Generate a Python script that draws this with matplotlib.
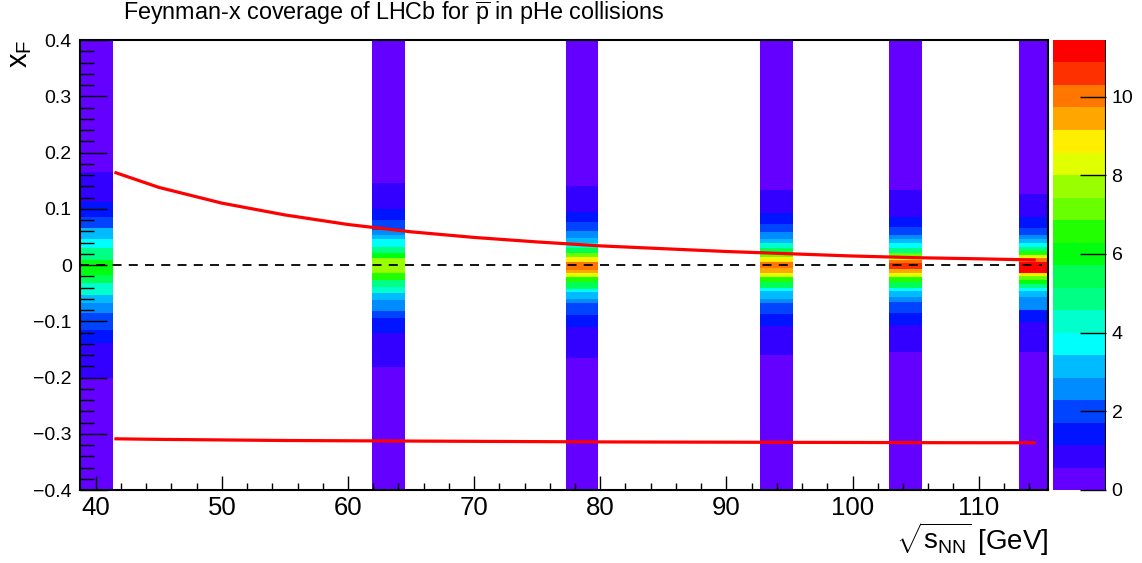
import colorsys
import numpy as np
import matplotlib
matplotlib.use("Agg")
import matplotlib.pyplot as plt
from matplotlib.colors import ListedColormap, BoundaryNorm

plt.rcParams['font.family'] = ['Liberation Sans', 'DejaVu Sans']
plt.rcParams['mathtext.fontset'] = 'custom'
plt.rcParams['mathtext.rm'] = 'Liberation Sans'
plt.rcParams['mathtext.it'] = 'Liberation Sans'

# ---- data ----
sqrt_s = [40.05, 63.2, 78.55, 93.95, 104.2, 114.5]
band_width = 2.6

# per column: y edges (top -> bottom) and bin content in each slice
col1_edges = [0.4, 0.166, 0.1125, 0.086, 0.065, 0.0457, 0.0296, 0.0089, -0.018, -0.0326, -0.0533, -0.068, -0.086, -0.1156, -0.139, -0.2, -0.4]
col1_vals = [0.29, 0.86, 1.43, 2.0, 2.9, 3.72, 4.86, 6.0, 5.43, 4.29, 3.15, 2.57, 2.0, 1.43, 0.86, 0.29]

col2_edges = [0.4, 0.146, 0.099, 0.080, 0.062, 0.053, 0.0457, 0.0326, 0.0207, 0.012, -0.0148, -0.0267, -0.0385, -0.050, -0.062, -0.081, -0.095, -0.121, -0.181, -0.4]
col2_vals = [0.29, 0.86, 1.43, 2.0, 2.57, 3.15, 3.72, 4.6, 6.0, 7.72, 6.3, 4.86, 4.29, 3.4, 2.57, 2.0, 1.43, 0.86, 0.29]

col3_edges = [0.4, 0.14, 0.095, 0.076, 0.060, 0.048, 0.040, 0.030, 0.022, 0.015, 0.006, -0.008, -0.015, -0.022, -0.031, -0.042, -0.048, -0.060, -0.068, -0.088, -0.110, -0.165, -0.4]
col3_vals = [0.29, 0.86, 1.43, 2.0, 2.57, 3.4, 4.29, 5.7, 7.4, 8.87, 10.0, 9.44, 8.29, 6.58, 5.43, 4.0, 3.15, 2.57, 2.0, 1.43, 0.86, 0.29]

col4_edges = [0.4, 0.133, 0.093, 0.073, 0.059, 0.046, 0.0385, 0.0296, 0.0219, 0.0148, 0.0059, -0.0059, -0.0148, -0.022, -0.031, -0.0415, -0.047, -0.060, -0.067, -0.087, -0.108, -0.160, -0.4]
col4_vals = [0.29, 0.86, 1.43, 2.0, 2.57, 3.4, 4.29, 5.7, 7.4, 8.87, 10.0, 9.44, 8.29, 6.58, 5.43, 4.0, 3.15, 2.57, 2.0, 1.43, 0.86, 0.29]

col5_edges = [0.4, 0.133, 0.086, 0.067, 0.053, 0.046, 0.0385, 0.0296, 0.0219, 0.0148, 0.0089, 0.003, -0.0077, -0.0137, -0.0207, -0.031, -0.0415, -0.047, -0.056, -0.065, -0.086, -0.107, -0.154, -0.4]
col5_vals = [0.29, 0.86, 1.43, 2.0, 2.57, 3.15, 3.72, 4.86, 6.9, 8.29, 10.0, 10.6, 9.44, 8.29, 6.58, 5.43, 3.72, 3.15, 2.57, 2.0, 1.43, 0.86, 0.29]

col6_edges = [0.4, 0.126, 0.086, 0.065, 0.053, 0.0457, 0.0385, 0.0326, 0.0249, 0.0178, 0.0119, 0.0059, -0.0137, -0.0196, -0.0267, -0.0338, -0.0415, -0.047, -0.056, -0.080, -0.101, -0.154, -0.4]
col6_vals = [0.29, 0.86, 1.43, 2.0, 2.57, 3.15, 3.72, 4.86, 6.58, 8.29, 10.0, 11.2, 8.87, 7.15, 6.0, 4.86, 3.72, 3.15, 2.3, 1.43, 0.86, 0.29]

# acceptance curves
curve_x = [41.6, 45, 50, 55, 60, 65, 70, 75, 80, 85, 90, 95, 100, 105, 110, 114.4]
curve_up = [0.164, 0.138, 0.110, 0.089, 0.072, 0.059, 0.049, 0.041, 0.034, 0.029, 0.024, 0.020, 0.016, 0.013, 0.011, 0.009]
curve_lo = [-0.309, -0.310, -0.311, -0.312, -0.3125, -0.313, -0.3135, -0.314, -0.3145, -0.3148, -0.315, -0.3153, -0.3155, -0.3158, -0.316, -0.316]

xticks = [40, 50, 60, 70, 80, 90, 100, 110]
yticks = [-0.4, -0.3, -0.2, -0.1, 0, 0.1, 0.2, 0.3, 0.4]
ylabels = ['\u22120.4', '\u22120.3', '\u22120.2', '\u22120.1', '0', '0.1', '0.2', '0.3', '0.4']
zticks = [0, 2, 4, 6, 8, 10]
zmax = 11.44
nlev = 20

# ROOT "pretty" palette (SetPalette(1)) with 20 contours
pal = []
for k in range(nlev):
    idx = int((k + 0.99) * 50 / nlev)
    hue = (280 - (idx + 1) * 280 / 50) / 360.0
    pal.append(colorsys.hls_to_rgb(hue, 0.5, 1.0))
cmap = ListedColormap(pal)
norm = BoundaryNorm(np.linspace(0, zmax, nlev + 1), nlev)

fig = plt.figure(figsize=(11.42, 5.63), dpi=100)
ax = fig.add_axes([80 / 1142, 73 / 563, 968 / 1142, 450 / 563])

cols = [(col1_edges, col1_vals), (col2_edges, col2_vals), (col3_edges, col3_vals),
        (col4_edges, col4_vals), (col5_edges, col5_vals), (col6_edges, col6_vals)]
mesh = None
for xc, (edges, vals) in zip(sqrt_s, cols):
    ye = np.array(edges[::-1])
    v = np.array(vals[::-1])[:, None]
    mesh = ax.pcolormesh([xc - band_width / 2, xc + band_width / 2], ye, v,
                         cmap=cmap, norm=norm, shading='flat', zorder=1)

ax.plot([38.75, 115.0], [0, 0], color='black', ls=(0, (5, 4)), lw=1.3, zorder=3)
ax.plot(curve_x, curve_up, color='red', lw=2.3, zorder=4)
ax.plot(curve_x, curve_lo, color='red', lw=2.3, zorder=4)

ax.set_xlim(38.75, 115.5)
ax.set_ylim(-0.4, 0.4)
ax.set_xticks(xticks)
ax.set_xticks(np.arange(40, 116, 2), minor=True)
ax.set_yticks(yticks)
ax.set_yticklabels(ylabels)
ax.set_yticks(np.arange(-0.4, 0.401, 0.02), minor=True)
ax.tick_params(axis='x', which='major', direction='in', length=10, width=1, labelsize=18.5, pad=4)
ax.tick_params(axis='x', which='minor', direction='in', length=5, width=1)
ax.tick_params(axis='y', which='major', direction='in', length=19.5, width=1, labelsize=14, pad=6)
ax.tick_params(axis='y', which='minor', direction='in', length=10, width=1)
for s in ax.spines.values():
    s.set_linewidth(1.5)

cax = fig.add_axes([1053 / 1142, 73 / 563, 53 / 1142, 450 / 563])
cb = fig.colorbar(mesh, cax=cax)
cb.outline.set_visible(False)
cb.set_ticks(zticks)
cax.minorticks_off()
cax.axvline(cax.get_xlim()[1], color='black', lw=1.5)
cax.tick_params(direction='in', length=19, width=1, labelsize=14, pad=4)

fig.text(123 / 1142, 1 - 20 / 563, r'Feynman-x coverage of LHCb for $\overline{\rm p}$ in pHe collisions',
         fontsize=16.8, ha='left', va='baseline')
fig.text(1048 / 1142, 1 - 550 / 563, r'$\sqrt{\rm s_{NN}}$ [GeV]', fontsize=20, ha='right', va='baseline')
fig.text(20 / 1142, 1 - 40 / 563, r'x$_{\rm F}$', fontsize=21, rotation=90, ha='center', va='top')

fig.savefig('out.png', dpi=100)
